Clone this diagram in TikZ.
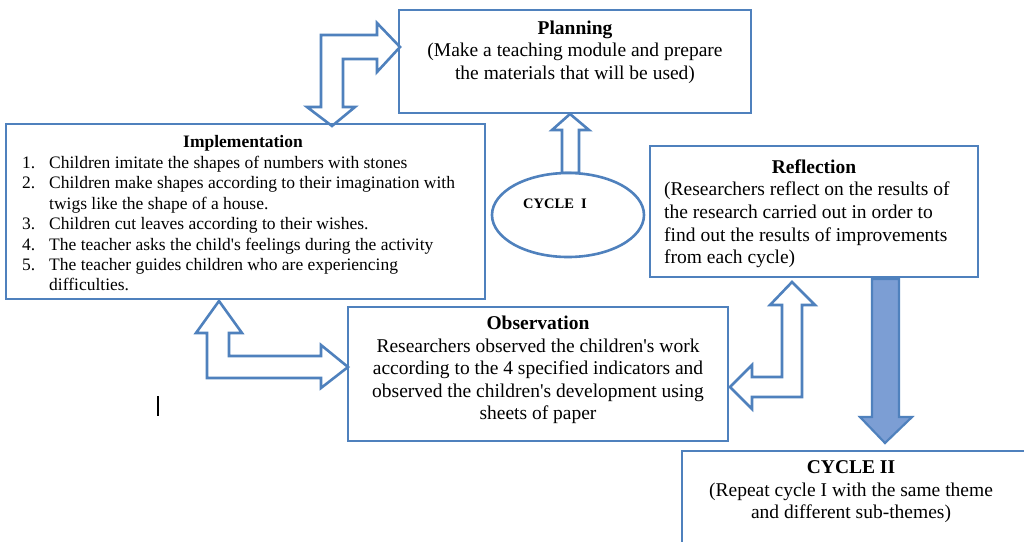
\documentclass[tikz,border=0pt]{standalone}
\usepackage{fontspec}
\setmainfont{Liberation Serif}
\usetikzlibrary{shapes.geometric}
\definecolor{boxblue}{RGB}{79,129,189}
\definecolor{arrowfill}{RGB}{124,158,212}
\begin{document}
\begin{tikzpicture}[x=1pt,y=-1pt,
  box/.style={draw=boxblue, line width=2.8pt, rectangle, inner sep=0pt},
  hollow/.style={draw=boxblue, line width=2.6pt, fill=white, line join=miter},
  solidarrow/.style={draw=boxblue, line width=2.2pt, fill=arrowfill, line join=miter},
  txt/.style={inner sep=0pt, align=center, font=\fontsize{19.5}{22.6}\selectfont},
  listtxt/.style={inner sep=0pt, align=left, font=\fontsize{17.5}{20.4}\selectfont},
]
\clip (0,0) rectangle (1024,541);
\fill[white] (0,0) rectangle (1024,541);

% block arrows
\draw[hollow] (400,47) -- (377,23) -- (377,35) -- (321,35) -- (321,107) -- (307,107)
  -- (332,126) -- (355,107) -- (343,107) -- (343,59) -- (377,59) -- (377,72) -- cycle;
\draw[hollow] (570,114) -- (589,130) -- (579,130) -- (579,173) -- (562,173) -- (562,130) -- (552,130) -- cycle;
\draw[hollow] (219,301) -- (242,333) -- (229,333) -- (229,356) -- (321,356) -- (321,345)
  -- (348,367) -- (321,388) -- (321,378) -- (207,378) -- (207,333) -- (196,333) -- cycle;
\draw[hollow] (792,282) -- (815,305) -- (802,305) -- (802,397) -- (752,397) -- (752,409)
  -- (730,387) -- (752,365) -- (752,377) -- (782,377) -- (782,305) -- (770,305) -- cycle;
\draw[solidarrow] (872,279) -- (899,279) -- (899,417) -- (912,417) -- (885,443) -- (860,417) -- (872,417) -- cycle;

% boxes
\node[box, minimum width=352pt, minimum height=103pt] (planning) at (575,61.5) {};
\node[box, minimum width=479pt, minimum height=175pt] (impl) at (245.5,211.5) {};
\node[box, minimum width=328pt, minimum height=131pt] (refl) at (814,211.5) {};
\node[box, minimum width=380pt, minimum height=134pt] (obs) at (538,374) {};
\node[box, minimum width=358pt, minimum height=109pt] (cyc2) at (861,505.5) {};
\node[draw=boxblue, line width=2.6pt, fill=white, ellipse, minimum width=152pt, minimum height=84pt, inner sep=0pt] (cyc1) at (568,215) {};

% texts
\node[txt] (planningtxt) at (575,52) {\textbf{Planning}\\(Make a teaching module and prepare\\the materials that will be used)};
\node[txt, font=\fontsize{17.5}{20.4}\selectfont] (impltitle) at (243,143) {\textbf{Implementation}};
\node[listtxt, anchor=north west] (impllist) at (22,156) {%
\makebox[27pt][l]{1.}Children imitate the shapes of numbers with stones\\
\makebox[27pt][l]{2.}Children make shapes according to their imagination with\\
\hspace*{27pt}twigs like the shape of a house.\\
\makebox[27pt][l]{3.}Children cut leaves according to their wishes.\\
\makebox[27pt][l]{4.}The teacher asks the child\textquotesingle s feelings during the activity\\
\makebox[27pt][l]{5.}The teacher guides children who are experiencing\\
\hspace*{27pt}difficulties.};
\node[txt] (refltitle) at (814,167) {\textbf{Reflection}};
\node[txt, align=left, anchor=west] (reflbody) at (664,225) {(Researchers reflect on the results of\\the research carried out in order to\\find out the results of improvements\\from each cycle)};
\node[txt] (obstxt) at (538,370) {\textbf{Observation}\\Researchers observed the children\textquotesingle s work\\according to the 4 specified indicators and\\observed the children\textquotesingle s development using\\sheets of paper};
\node[txt] (cyc2txt) at (851,492) {\textbf{CYCLE II}\\(Repeat cycle I with the same theme\\and different sub-themes)};
\node[inner sep=0pt, font=\fontsize{14.5}{16}\selectfont\bfseries] (cyc1txt) at (555,204) {CYCLE\ \ I};

% stray cursor mark
\draw[black, line width=1.3pt] (158,396) -- (158,416);
\end{tikzpicture}
\end{document}
